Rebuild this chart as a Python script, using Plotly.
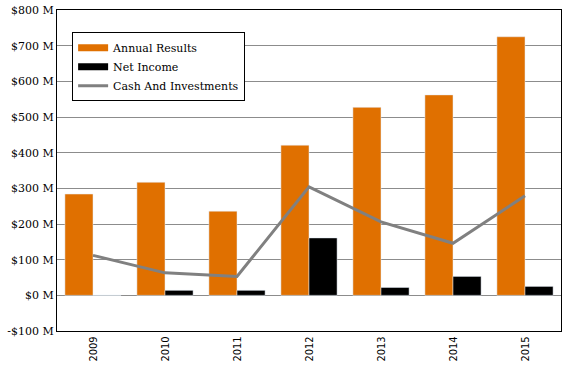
import plotly.graph_objects as go

years = ["2009", "2010", "2011", "2012", "2013", "2014", "2015"]
annual_results = [284, 317, 236, 421, 527, 562, 725]
net_income = [0, 14, 14, 161, 22, 53, 25]
cash_investments = [112, 63, 53, 304, 206, 146, 279]
y_ticks = [-100, 0, 100, 200, 300, 400, 500, 600, 700, 800]
y_labels = ["-$100 M" if v < 0 else f"${v} M" for v in y_ticks]

SERIF = "DejaVu Serif"
ORANGE = "#E07000"
GREY = "#808080"

fig = go.Figure()
fig.add_trace(go.Bar(x=years, y=annual_results, name="Annual Results", marker_color=ORANGE,
                     showlegend=False))
fig.add_trace(go.Bar(x=years, y=net_income, name="Net Income", marker_color="#000000",
                     showlegend=False))
fig.add_trace(go.Scatter(x=years, y=cash_investments, name="Cash And Investments", mode="lines",
                         line=dict(color=GREY, width=3), showlegend=False))
fig.add_trace(go.Scatter(x=[None], y=[None], mode="lines", name="Annual Results",
                         line=dict(color=ORANGE, width=7)))
fig.add_trace(go.Scatter(x=[None], y=[None], mode="lines", name="Net Income",
                         line=dict(color="#000000", width=7)))
fig.add_trace(go.Scatter(x=[None], y=[None], mode="lines", name="Cash And Investments",
                         line=dict(color=GREY, width=3)))

fig.update_layout(
    width=569, height=379,
    margin=dict(l=57, r=8, t=10, b=48),
    plot_bgcolor="white", paper_bgcolor="white",
    barmode="group", bargap=0.22, bargroupgap=0,
    font=dict(family=SERIF, size=11, color="black"),
    legend=dict(x=0.03, y=0.931, xanchor="left", yanchor="top",
                bordercolor="black", borderwidth=1, bgcolor="white",
                font=dict(family=SERIF, size=11), tracegroupgap=0, itemwidth=30),
    showlegend=True,
)
fig.update_xaxes(tickangle=-90, tickfont=dict(family="DejaVu Sans Condensed", size=11),
                 showline=True, linecolor="black", mirror=True, ticks="", automargin=False)
fig.update_yaxes(range=[-100, 800], tickvals=y_ticks, ticktext=y_labels,
                 showgrid=True, gridcolor="#8c8c8c", gridwidth=1,
                 zeroline=True, zerolinecolor="#8c8c8c", zerolinewidth=1,
                 showline=True, linecolor="black", mirror=True, automargin=False,
                 tickfont=dict(family=SERIF, size=11))

fig.write_html("out.html", config={"displayModeBar": False},
               post_script="document.body.style.margin='0';document.body.style.overflow='hidden';")
